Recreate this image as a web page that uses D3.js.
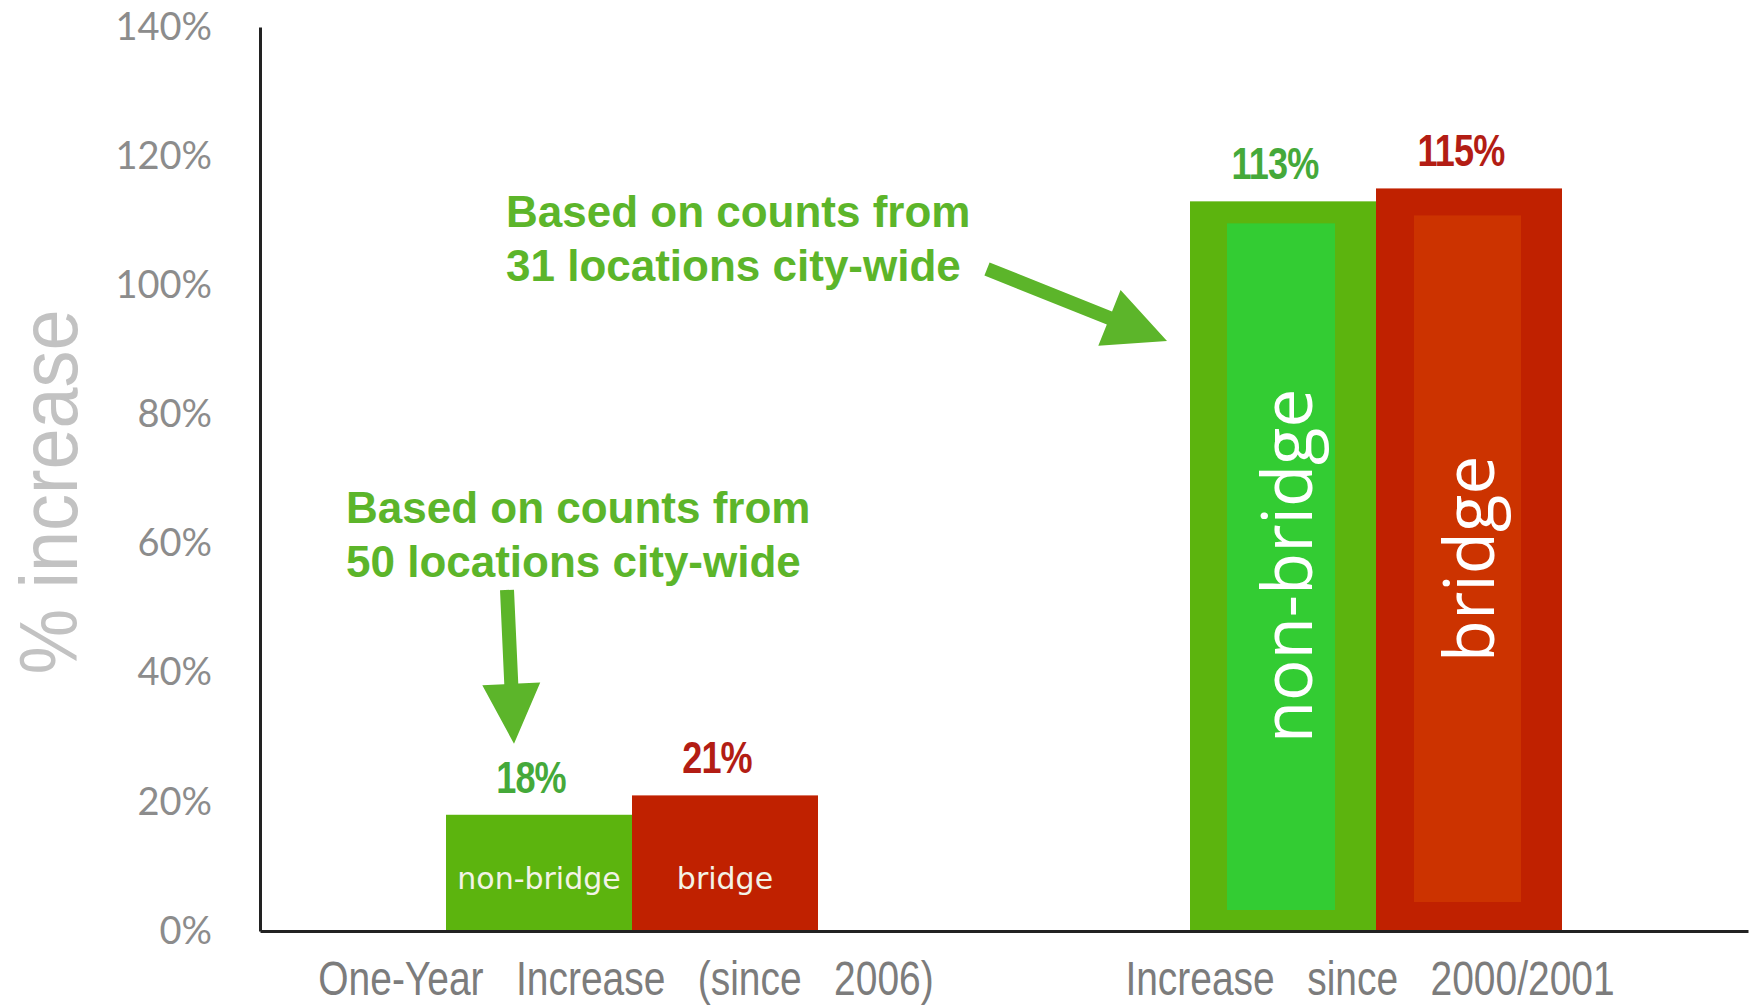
<!DOCTYPE html>
<html>
<head>
<meta charset="utf-8">
<script src="https://cdn.jsdelivr.net/npm/d3@7"></script>
<style>
  html, body { margin: 0; padding: 0; background: #ffffff; }
  svg { display: block; }
</style>
</head>
<body>
<script>
// Percentage increase in cycling counts, bridge vs. non-bridge locations
const groups = ["One-Year Increase (since 2006)", "Increase since 2000/2001"];
const seriesNames = ["non-bridge", "bridge"];
const nonBridgeValues = [18, 113];
const bridgeValues = [21, 115];
const yTickValues = [0, 20, 40, 60, 80, 100, 120, 140];
const notes = [
  ["Based on counts from", "50 locations city-wide"],
  ["Based on counts from", "31 locations city-wide"]
];

const W = 1755, H = 1005;
const NARROW = 0.82; // horizontal squeeze for the condensed type
const svg = d3.select("body").append("svg").attr("width", W).attr("height", H);

const x0 = d3.scaleBand().domain(groups).range([260, 1748]).paddingInner(0.5).paddingOuter(0.25);
const x1 = d3.scaleBand().domain(seriesNames).range([0, x0.bandwidth()]).padding(0);
const y = d3.scaleLinear().domain([0, 140]).range([931, 27]);

const rows = groups.map((g, i) => ({
  group: g, index: i,
  bars: [
    { name: "non-bridge", value: nonBridgeValues[i] },
    { name: "bridge", value: bridgeValues[i] }
  ]
}));

const outerFill = { "non-bridge": "#5cb40e", "bridge": "#c02100" };
const panelFill = { "non-bridge": "#33cc33", "bridge": "#cc3300" };
const valueFill = { "non-bridge": "#45a93a", "bridge": "#b31d14" };

// Y axis
const yAxis = svg.append("g").attr("transform", "translate(260,0)")
  .call(d3.axisLeft(y).tickValues(yTickValues).tickFormat(d => d + "%").tickSize(0).tickSizeOuter(0).tickPadding(48));
yAxis.select(".domain").attr("stroke", "#222").attr("stroke-width", 3);
yAxis.selectAll(".tick text")
  .attr("font-family", "Lato, 'Open Sans', sans-serif")
  .attr("font-size", 38)
  .attr("fill", "#8c8c8c");

svg.append("text")
  .attr("transform", `translate(77,492) rotate(-90) scale(0.9,1)`)
  .attr("text-anchor", "middle")
  .attr("font-family", "'Liberation Sans', Arial, sans-serif")
  .attr("font-size", 82)
  .attr("fill", "#c2c2c2")
  .text("% increase");

// Bars
const gGroups = svg.selectAll("g.grp").data(rows).join("g")
  .attr("class", "grp")
  .attr("transform", d => `translate(${x0(d.group)},0)`);

gGroups.selectAll("rect.bar").data(d => d.bars).join("rect")
  .attr("class", "bar")
  .attr("x", d => x1(d.name))
  .attr("width", x1.bandwidth())
  .attr("y", d => y(d.value))
  .attr("height", d => y(0) - y(d.value))
  .attr("fill", d => outerFill[d.name]);

// Long-term group: inset lighter panels with vertical series names
const inset = { "non-bridge": { l: 37, r: 41, t: 22, b: 21 }, "bridge": { l: 38, r: 41, t: 27, b: 29 } };
const longTerm = gGroups.filter(d => d.index === 1);
longTerm.selectAll("rect.panel").data(d => d.bars).join("rect")
  .attr("class", "panel")
  .attr("x", d => x1(d.name) + inset[d.name].l)
  .attr("width", d => x1.bandwidth() - inset[d.name].l - inset[d.name].r)
  .attr("y", d => y(d.value) + inset[d.name].t)
  .attr("height", d => y(0) - y(d.value) - inset[d.name].t - inset[d.name].b)
  .attr("fill", d => panelFill[d.name]);

longTerm.selectAll("text.vname").data(d => d.bars).join("text")
  .attr("class", "vname")
  .attr("transform", (d, i) => `translate(${x1(d.name) + x1.bandwidth() / 2 + (i === 0 ? 29 : 25)},${i === 0 ? 566 : 559}) rotate(-90)`)
  .attr("text-anchor", "middle")
  .attr("font-family", "'Open Sans', sans-serif")
  .attr("font-size", 69)
  .attr("fill", "#ffffff")
  .text(d => d.name);

// One-year group: horizontal series names inside bars
const oneYear = gGroups.filter(d => d.index === 0);
oneYear.selectAll("text.hname").data(d => d.bars).join("text")
  .attr("class", "hname")
  .attr("x", d => x1(d.name) + x1.bandwidth() / 2)
  .attr("y", 889)
  .attr("text-anchor", "middle")
  .attr("font-family", "'DejaVu Sans', sans-serif")
  .attr("font-size", 30)
  .attr("fill", "#f3f3e6")
  .text(d => d.name);

// Value labels
gGroups.selectAll("text.val").data(d => d.bars).join("text")
  .attr("class", "val")
  .attr("transform", d => `translate(${x1(d.name) + x1.bandwidth() / 2 - 8},${y(d.value) - 22}) scale(${NARROW},1)`)
  .attr("text-anchor", "middle")
  .attr("font-family", "'Liberation Sans', Arial, sans-serif")
  .attr("font-weight", "bold")
  .attr("font-size", 44)
  .attr("letter-spacing", -1)
  .attr("fill", d => valueFill[d.name])
  .text(d => d.value + "%");

// X axis
const xAxis = svg.append("g").attr("transform", `translate(0,${y(0)})`)
  .call(d3.axisBottom(x0).tickSize(0).tickSizeOuter(0).tickFormat(d => d.split(" ").join("   ")));
xAxis.select(".domain").attr("stroke", "#222").attr("stroke-width", 3);
xAxis.selectAll(".tick text")
  .attr("y", 0).attr("dy", 0)
  .attr("transform", `translate(-6,64) scale(${NARROW},1)`)
  .attr("font-family", "'Liberation Sans', Arial, sans-serif")
  .attr("font-size", 47.5)
  .attr("fill", "#7c7c7c")
  .style("white-space", "pre");

// Annotation notes with arrows
const noteColor = "#5cb52a";
function arrow(xa, ya, xb, yb, shaft, headLen, headW) {
  const dx = xb - xa, dy = yb - ya, len = Math.hypot(dx, dy);
  const ux = dx / len, uy = dy / len, nx = -uy, ny = ux;
  const bx = xb - ux * headLen, by = yb - uy * headLen;
  const pts = [
    [xa + nx * shaft / 2, ya + ny * shaft / 2],
    [bx + nx * shaft / 2, by + ny * shaft / 2],
    [bx + nx * headW / 2, by + ny * headW / 2],
    [xb, yb],
    [bx - nx * headW / 2, by - ny * headW / 2],
    [bx - nx * shaft / 2, by - ny * shaft / 2],
    [xa - nx * shaft / 2, ya - ny * shaft / 2]
  ];
  svg.append("polygon").attr("points", pts.map(p => p.join(",")).join(" ")).attr("fill", noteColor);
}

function note(lines, xPos, yBase) {
  const t = svg.append("text")
    .attr("font-family", "'Liberation Sans', Arial, sans-serif")
    .attr("font-weight", "bold")
    .attr("font-size", 44)
    .attr("fill", noteColor);
  lines.forEach((ln, i) => t.append("tspan").attr("x", xPos).attr("y", yBase + i * 54).text(ln));
}

const g0x = x0(groups[0]) + x1("non-bridge") + x1.bandwidth() / 2;
note(notes[0], 346, 523);
arrow(g0x - 32, 590, g0x - 25, y(nonBridgeValues[0]) - 71, 14, 60, 58);

const g1x = x0(groups[1]);
note(notes[1], 506, 227);
arrow(987, 269, g1x - 23, 341, 14, 62, 60);
</script>
</body>
</html>
